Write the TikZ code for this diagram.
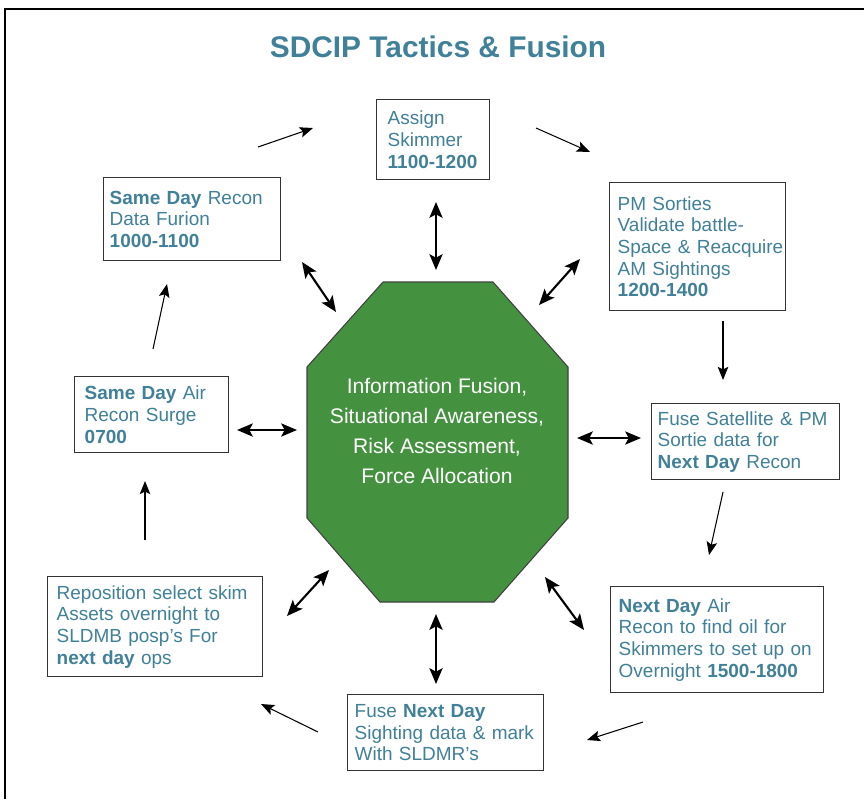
\documentclass[tikz,border=0pt]{standalone}
\usepackage{fontspec}
\setmainfont{Liberation Sans}
\usetikzlibrary{arrows.meta}
\definecolor{sdcipblue}{RGB}{64,128,152}
\definecolor{fusiongreen}{RGB}{68,146,64}
\definecolor{boxline}{RGB}{51,51,51}

\begin{document}
\begin{tikzpicture}[
  x=0.02cm, y=-0.02cm,
  lpad/.store in=\taskpad, lpad=0.16cm,
  task/.style={draw=boxline, line width=0.8pt, fill=white,
    anchor=north west, inner xsep=0pt, inner ysep=0pt,
    align=left, text=sdcipblue,
    font=\fontsize{10.8}{12.3}\selectfont,
    execute at begin node={\leftskip=\taskpad\relax
      \hyphenpenalty=10000\exhyphenpenalty=10000\relax}},
  flow/.style={-{Stealth[length=7.5pt,width=6pt,inset=1.5pt]},
    line width=0.6pt},
  link/.style={{Stealth[length=9pt,width=7.5pt,inset=2pt]}-%
    {Stealth[length=9pt,width=7.5pt,inset=2pt]}, line width=1.2pt}
]
\useasboundingbox (0,0) rectangle (864,799);

% Page frame
\draw[line width=0.8pt] (864,9) -- (5,9) -- (5,799);

% Title
\node[anchor=base, text=sdcipblue,
      font=\fontsize{17}{20}\selectfont\bfseries] (title)
  at (438,57) {SDCIP Tactics \& Fusion};

% Fusion centre
\fill[fusiongreen, draw=black!75, line width=0.6pt]
  (383,282) -- (493,282) -- (568,367) -- (568,518) --
  (494,602) -- (380,602) -- (307,518) -- (307,367) -- cycle;
\node[align=center, text=white,
      font=\fontsize{12}{17}\selectfont] (hub) at (437,431)
  {Information Fusion,\\Situational Awareness,\\
   Risk Assessment,\\Force Allocation};

% Daily cycle boxes
\node[task, text width=2.26cm, minimum height=1.6cm,
      lpad=0.22cm] (assign) at (376,99)
  {Assign\\Skimmer\\\textbf{1100-1200}};

\node[task, text width=3.52cm, minimum height=2.56cm] (pm)
  at (609,182)
  {PM Sorties\\Validate battle-\\Space \& Reacquire\\
   AM Sightings\\\textbf{1200-1400}};

\node[task, text width=3.76cm, minimum height=1.52cm,
      lpad=0.12cm] (fusesat) at (651,403)
  {Fuse Satellite \& PM\\Sortie data for\\\textbf{Next Day} Recon};

\node[task, text width=4.26cm, minimum height=2.12cm] (nextair)
  at (610,586)
  {\textbf{Next Day} Air\\Recon to find oil for\\
   Skimmers to set up on\\Overnight \textbf{1500-1800}};

\node[task, text width=3.92cm, minimum height=1.52cm,
      lpad=0.14cm] (fusenext) at (347,694)
  {Fuse \textbf{Next Day}\\Sighting data \& mark\\With SLDMR’s};

\node[task, text width=4.3cm, minimum height=2cm,
      lpad=0.18cm] (repos) at (47,576)
  {Reposition select skim\\Assets overnight to\\
   SLDMB posp’s For\\\textbf{next day} ops};

\node[task, text width=3.08cm, minimum height=1.52cm,
      lpad=0.2cm] (sameair) at (74,376)
  {\textbf{Same Day} Air\\Recon Surge\\\textbf{0700}};

\node[task, text width=3.54cm, minimum height=1.66cm,
      lpad=0.12cm] (samerecon) at (103,177)
  {\textbf{Same Day} Recon\\Data Furion\\\textbf{1000-1100}};

% Arrow ends round the cycle
\foreach \n/\x/\y in {
    cyc1s/258/147, cyc1e/313/128, cyc2s/536/128, cyc2e/590/152,
    cyc3s/723/321, cyc3e/723/380, cyc4s/723/492, cyc4e/709/555,
    cyc5s/643/722, cyc5e/587/740, cyc6s/318/732, cyc6e/261/704,
    cyc7s/145/540, cyc7e/145/481, cyc8s/153/349, cyc8e/167/284}
  \coordinate (\n) at (\x,\y);

% Arrow ends between boxes and the fusion centre
\foreach \n/\x/\y in {
    hub1s/436/202, hub1e/436/270, hub2s/580/259, hub2e/539/305,
    hub3s/577/438, hub3e/641/438, hub4s/545/577, hub4e/584/630,
    hub5s/436/614, hub5e/436/684, hub6s/329/570, hub6e/287/616,
    hub7s/237/430, hub7e/297/430, hub8s/302/262, hub8e/336/312}
  \coordinate (\n) at (\x,\y);

% Arrows
\foreach \i in {1,...,8} {
  \draw[flow] (cyc\i s) -- (cyc\i e);
  \draw[link] (hub\i s) -- (hub\i e);
}
\end{tikzpicture}
\end{document}
